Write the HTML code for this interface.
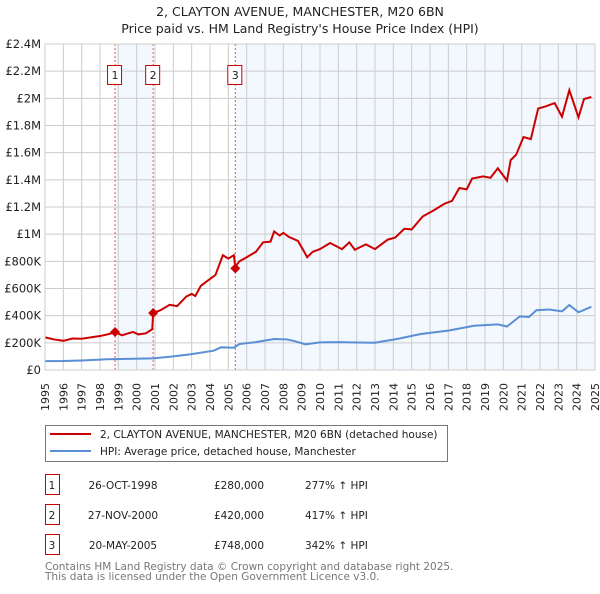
<!DOCTYPE html>
<html><head><meta charset="utf-8">
<style>
body{margin:0;background:#fff;font-family:"DejaVu Sans","Liberation Sans",sans-serif;}
svg text{font-family:"DejaVu Sans","Liberation Sans",sans-serif;}
</style></head>
<body>
<svg id="chart" width="600" height="590" xmlns="http://www.w3.org/2000/svg">
<text x="300" y="16" text-anchor="middle" font-size="12.5" fill="#222">2, CLAYTON AVENUE, MANCHESTER, M20 6BN</text>
<text x="300" y="33" text-anchor="middle" font-size="12.5" fill="#222">Price paid vs. HM Land Registry's House Price Index (HPI)</text>
<g id="plot"></g>
<g>
<rect x="45.5" y="425.5" width="402" height="36" fill="#fff" stroke="#777"/>
<line x1="50" y1="434" x2="91" y2="434" stroke="#cc0000" stroke-width="2"/>
<text x="100" y="438" font-size="10.5" fill="#222">2, CLAYTON AVENUE, MANCHESTER, M20 6BN (detached house)</text>
<line x1="50" y1="451" x2="91" y2="451" stroke="#5b8fd4" stroke-width="2"/>
<text x="100" y="455" font-size="10.5" fill="#222">HPI: Average price, detached house, Manchester</text>
</g>
<g id="table"></g>
<text x="45" y="570" font-size="10.5" fill="#777">Contains HM Land Registry data © Crown copyright and database right 2025.</text>
<text x="45" y="580" font-size="10.5" fill="#777">This data is licensed under the Open Government Licence v3.0.</text>
</svg>
<script>
const yTicks=[0,200000,400000,600000,800000,1000000,1200000,1400000,1600000,1800000,2000000,2200000,2400000];
const yTickLabels=["£0","£200K","£400K","£600K","£800K","£1M","£1.2M","£1.4M","£1.6M","£1.8M","£2M","£2.2M","£2.4M"];
const xYears=[1995,1996,1997,1998,1999,2000,2001,2002,2003,2004,2005,2006,2007,2008,2009,2010,2011,2012,2013,2014,2015,2016,2017,2018,2019,2020,2021,2022,2023,2024,2025];
const saleLabels=["1","2","3"];
const saleTimes=[1998.82,2000.9,2005.38];
const salePrices=[280000,420000,748000];
const saleDates=["26-OCT-1998","27-NOV-2000","20-MAY-2005"];
const salePriceText=["£280,000","£420,000","£748,000"];
const saleHpiText=["277% ↑ HPI","417% ↑ HPI","342% ↑ HPI"];
const redT=[1995,1995.5,1996,1996.5,1997,1997.5,1998,1998.5,1998.82,1999.2,1999.5,1999.8,2000.1,2000.5,2000.85,2000.9,2001.3,2001.8,2002.2,2002.7,2003.0,2003.2,2003.5,2003.9,2004.3,2004.7,2005.0,2005.3,2005.38,2005.6,2006,2006.5,2006.9,2007.3,2007.5,2007.8,2008.0,2008.3,2008.8,2009.1,2009.3,2009.6,2010.0,2010.55,2011.2,2011.6,2011.9,2012.5,2013.0,2013.7,2014.1,2014.6,2015.0,2015.6,2016.2,2016.8,2017.2,2017.6,2018.0,2018.3,2018.9,2019.3,2019.7,2020.2,2020.4,2020.7,2021.1,2021.5,2021.9,2022.3,2022.8,2023.2,2023.6,2024.1,2024.4,2024.8];
const redV=[240000,225000,215000,232000,230000,240000,250000,265000,280000,255000,268000,280000,262000,270000,300000,420000,440000,480000,470000,540000,560000,545000,620000,660000,700000,845000,820000,845000,760000,800000,830000,870000,940000,945000,1020000,990000,1010000,980000,950000,880000,830000,870000,890000,935000,890000,940000,885000,925000,890000,960000,975000,1040000,1035000,1130000,1175000,1225000,1245000,1340000,1330000,1410000,1425000,1415000,1485000,1395000,1545000,1585000,1715000,1700000,1925000,1940000,1965000,1865000,2060000,1860000,1995000,2010000];
const blueT=[1995,1996,1997,1998.4,1999.5,2000.9,2002,2002.9,2004.2,2004.6,2005.3,2005.6,2006.5,2007.5,2008.2,2008.6,2009.2,2010.0,2011,2012,2013.0,2014.2,2015.5,2017.0,2018.4,2019.7,2020.2,2020.9,2021.4,2021.8,2022.5,2023.2,2023.6,2024.1,2024.8];
const blueV=[65000,66000,70000,79000,82000,86000,100000,115000,142000,167000,164000,191000,205000,228000,225000,213000,189000,203000,205000,202000,201000,228000,265000,290000,326000,336000,320000,395000,390000,440000,445000,432000,478000,425000,465000];

const NS="http://www.w3.org/2000/svg";
const L=45,R=595,T=44,B=370;
const xs=t=>L+(t-1995)/30*(R-L);
const ys=v=>B-v/2400000*(B-T);
const plot=document.getElementById('plot');
function mk(tag,attrs,parent){const e=document.createElementNS(NS,tag);for(const k in attrs)e.setAttribute(k,attrs[k]);(parent||plot).appendChild(e);return e;}

// shading
let sh=mk('rect',{x:xs(saleTimes[0]),y:T,width:xs(saleTimes[1])-xs(saleTimes[0]),height:B-T,fill:'#f3f7fe'});


sh=mk('rect',{x:xs(saleTimes[2]),y:T,width:R-xs(saleTimes[2]),height:B-T,fill:'#f3f7fe'});


// grid
xYears.forEach(y=>{const g=mk('line',{x1:xs(y),x2:xs(y),y1:T,y2:B,stroke:'#cccccc','stroke-width':1});


const tx=mk('text',{x:0,y:0,transform:`translate(${xs(y)+4},383) rotate(-90)`,'text-anchor':'end','font-size':11,fill:'#222'});
tx.textContent=y;

});
yTicks.forEach((v,i)=>{const g=mk('line',{x1:L,x2:R,y1:ys(v),y2:ys(v),stroke:'#cccccc','stroke-width':1});


const tx=mk('text',{x:L-4,y:ys(v)+4,'text-anchor':'end','font-size':11.5,fill:'#222'});
tx.textContent=yTickLabels[i];

});
// sale lines & labels
saleTimes.forEach((t,i)=>{const l=mk('line',{x1:xs(t),x2:xs(t),y1:T,y2:B,stroke:'#ee5555','stroke-width':1,'stroke-dasharray':'2,2'});


const bx=mk('rect',{x:xs(t)-7.5,y:65.5,width:14,height:19,fill:'#fff',stroke:'#cc0000'});


const tx=mk('text',{x:xs(t),y:79,'text-anchor':'middle','font-size':11,fill:'#222'});
tx.textContent=saleLabels[i];

});
// series
const bp=mk('polyline',{points:blueT.map((t,i)=>xs(t)+','+ys(blueV[i])).join(' '),fill:'none',stroke:'#5b8fd4','stroke-width':2});


const rp=mk('polyline',{points:redT.map((t,i)=>xs(t)+','+ys(redV[i])).join(' '),fill:'none',stroke:'#cc0000','stroke-width':2});


saleTimes.forEach((t,i)=>{const x=xs(t),y=ys(salePrices[i]);
const d=mk('polygon',{points:`${x},${y-5} ${x+5},${y} ${x},${y+5} ${x-5},${y}`,fill:'#cc0000'});

});
mk('rect',{x:L,y:T,width:R-L,height:B-T,fill:'none',stroke:'#cccccc'});
// table
const tb=document.getElementById('table');
saleLabels.forEach((s,i)=>{const y=483+i*30;
const b=mk('rect',{x:45.5,y:y-8.5,width:14,height:20,fill:'#fff',stroke:'#cc0000'},tb);


const cells=[[52,s,'middle'],[123,saleDates[i],'middle'],[239,salePriceText[i],'middle'],[305,saleHpiText[i],'start']];
cells.forEach(c=>{const tx=mk('text',{x:c[0],y:y+6,'text-anchor':c[2],'font-size':10.5,fill:'#222'},tb);
tx.textContent=c[1];

});});
</script>
</body></html>
